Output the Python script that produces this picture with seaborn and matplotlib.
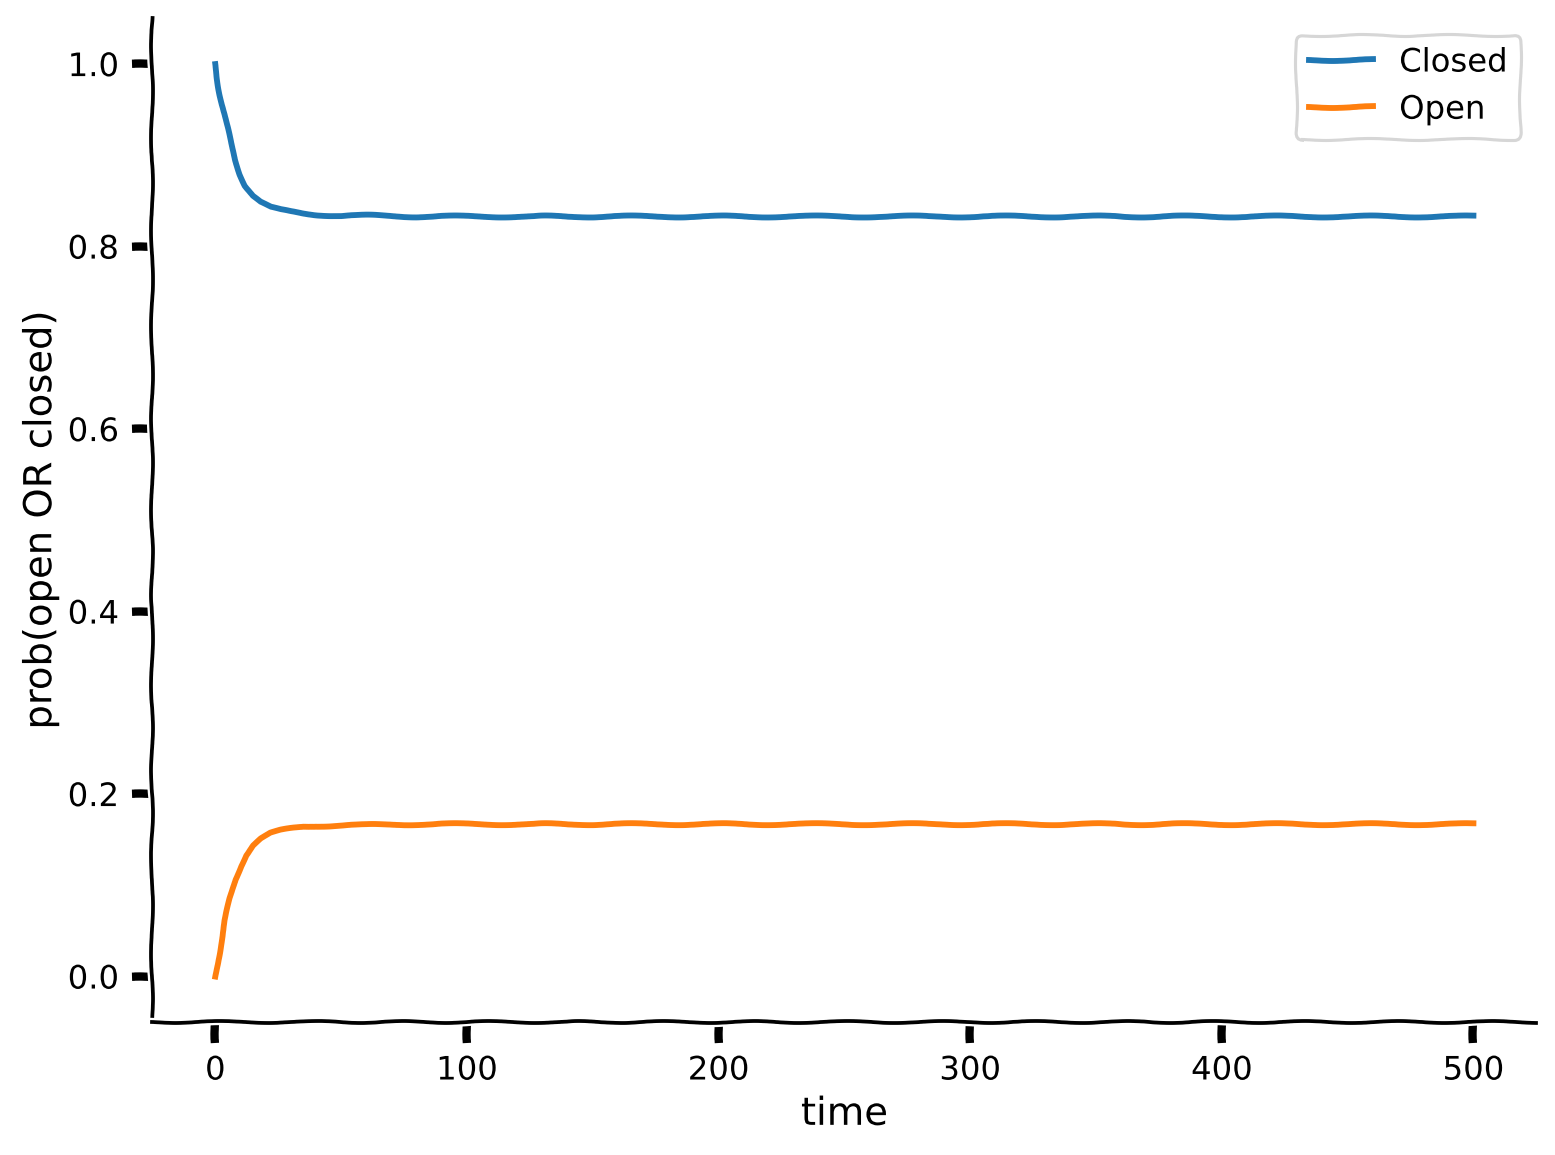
import matplotlib
matplotlib.use("Agg")
import matplotlib.pyplot as plt
import seaborn as sns
import pandas as pd

time = [0, 1, 2, 4, 6, 8, 10, 12, 15, 18, 22, 26, 30, 35, 40, 50, 60, 80, 100, 150,
        200, 250, 300, 350, 400, 450, 500]
closed = [1.0, 0.982, 0.966, 0.938, 0.914, 0.894, 0.879, 0.867, 0.856, 0.849, 0.843,
          0.840, 0.838, 0.836, 0.835, 0.834, 0.834, 0.833, 0.833, 0.833,
          0.833, 0.833, 0.833, 0.833, 0.833, 0.833, 0.833]
open_ = [0.0, 0.018, 0.034, 0.062, 0.086, 0.106, 0.121, 0.133, 0.144, 0.151, 0.157,
         0.160, 0.162, 0.164, 0.165, 0.166, 0.166, 0.167, 0.167, 0.167,
         0.167, 0.167, 0.167, 0.167, 0.167, 0.167, 0.167]
series = ["Closed", "Open"]

df = pd.concat([
    pd.DataFrame({"time": time, "prob": closed, "state": series[0]}),
    pd.DataFrame({"time": time, "prob": open_, "state": series[1]}),
])

sns.set_context("talk")
plt.xkcd()
plt.rcParams["font.family"] = ["DejaVu Sans"]
plt.rcParams["xtick.labelsize"] = 15.5
plt.rcParams["ytick.labelsize"] = 15.5
plt.rcParams["legend.fontsize"] = 15.5
plt.rcParams["axes.labelsize"] = 18.5
plt.rcParams["axes.linewidth"] = 1.8

fig, ax = plt.subplots(figsize=(1555 / 150, 1155 / 150), dpi=150)
fig.subplots_adjust(left=0.098, right=0.988, top=0.984, bottom=0.115)
sns.lineplot(data=df, x="time", y="prob", hue="state", ax=ax,
             palette=["#1f77b4", "#ff7f0e"], linewidth=2.8)
ax.set_ylim(-0.05, 1.05)
ax.set_xlabel("time")
ax.set_ylabel("prob(open OR closed)")
ax.tick_params(length=10, width=4, pad=6)
ax.legend(title=None, loc="upper right")
sns.despine(ax=ax)
fig.savefig("out.png", dpi=150)
